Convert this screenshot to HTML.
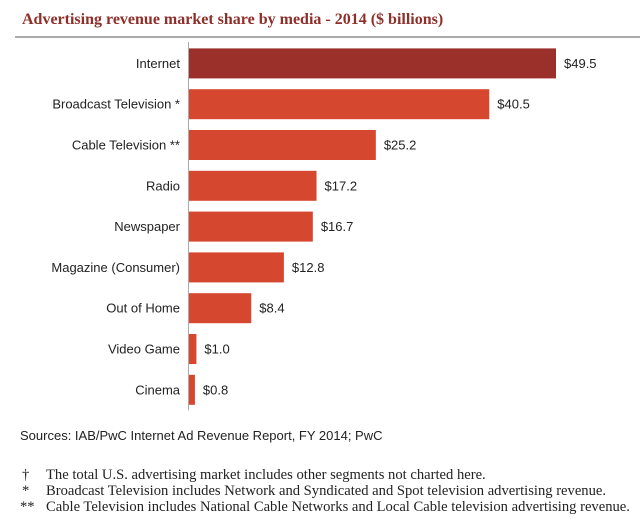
<!DOCTYPE html>
<html><head><meta charset="utf-8"><style>
body{margin:0;background:#fff;width:640px;height:522px;overflow:hidden;font-family:"Liberation Sans",sans-serif}
svg{display:block}
</style></head><body>
<svg width="640" height="522">
<text x="22" y="24" font-family="Liberation Serif,serif" font-weight="bold" font-size="16" fill="#8e2f2a">Advertising revenue market share by media - 2014 ($ billions)</text>
<line x1="15" y1="37" x2="640" y2="37" stroke="#777" stroke-width="1.2"/>
<g id="bars"></g>
<text x="20" y="440" font-size="13" fill="#222">Sources: IAB/PwC Internet Ad Revenue Report, FY 2014; PwC</text>
<g font-family="Liberation Serif,serif" font-size="14.6" fill="#222">
<text x="22" y="479">†</text><text x="46" y="479">The total U.S. advertising market includes other segments not charted here.</text>
<text x="22" y="495">*</text><text x="46" y="495">Broadcast Television includes Network and Syndicated and Spot television advertising revenue.</text>
<text x="20" y="511">**</text><text x="46" y="511">Cable Television includes National Cable Networks and Local Cable television advertising revenue.</text>
</g>
</svg>
<script>
const categories=["Internet","Broadcast Television *","Cable Television **","Radio","Newspaper","Magazine (Consumer)","Out of Home","Video Game","Cinema"];
const values=[49.5,40.5,25.2,17.2,16.7,12.8,8.4,1.0,0.8];
const valueLabels=["$49.5","$40.5","$25.2","$17.2","$16.7","$12.8","$8.4","$1.0","$0.8"];
const NS="http://www.w3.org/2000/svg";
const g=document.getElementById('bars');
const x0=189, scale=367/49.5, top0=43, step=40.8, bh=30;
const xs=v=>x0+v*scale;
const yc=i=>top0+step*i+step/2;
function mk(t,a){const e=document.createElementNS(NS,t);for(const k in a)e.setAttribute(k,a[k]);g.appendChild(e);return e;}
categories.forEach((c,i)=>{
  const r=mk('rect',{x:x0,y:yc(i)-bh/2,width:xs(values[i])-x0,height:bh,fill:i===0?'#9b2f2a':'#d6472f'});
  
  
  const l=mk('text',{x:x0-9,y:yc(i)+4.5,'text-anchor':'end','font-size':'13',fill:'#222'});
  l.textContent=c;
  
  
  const v=mk('text',{x:xs(values[i])+8,y:yc(i)+4.5,'font-size':'13',fill:'#222'});
  v.textContent=valueLabels[i];
  
  
});
const ax=mk('line',{x1:x0-0.5,y1:top0-1,x2:x0-0.5,y2:top0+step*categories.length,stroke:'#aaa','stroke-width':1});


</script>
</body></html>
